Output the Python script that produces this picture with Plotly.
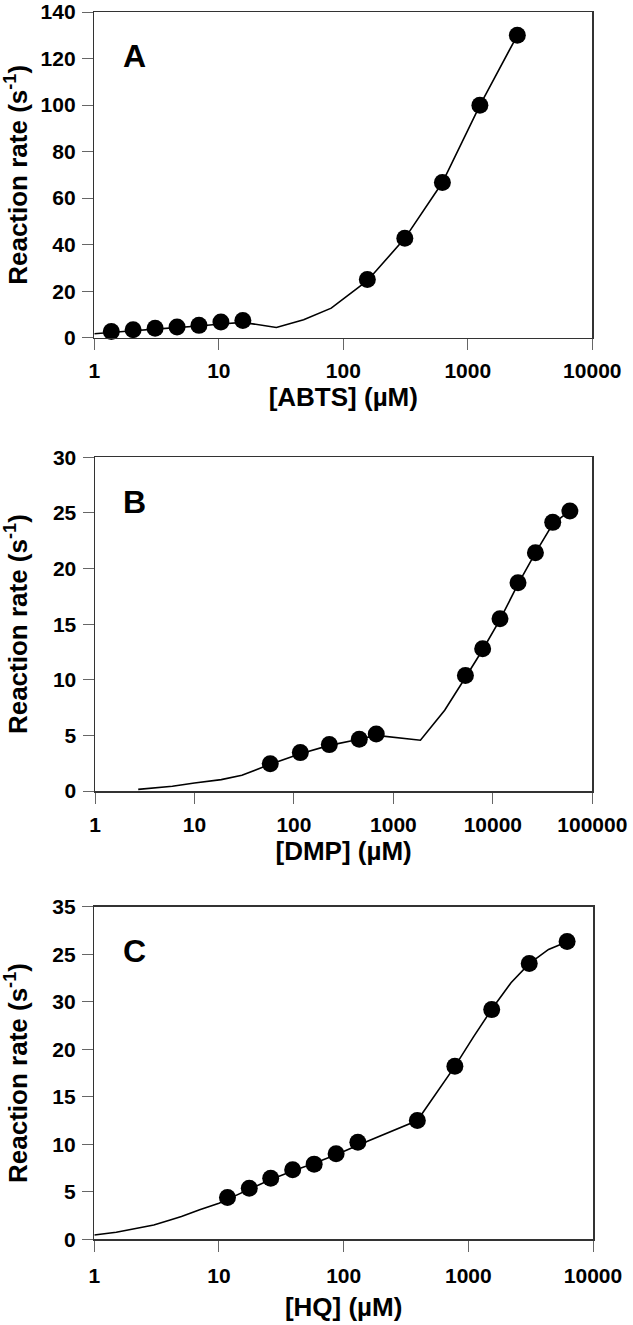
import plotly.graph_objects as go

# ---------------- data ----------------
# Panel A: ABTS
abts_x = [1.37, 2.05, 3.08, 4.62, 6.93, 10.4, 15.6, 156, 312, 625, 1250, 2500]
abts_y = [2.7, 3.4, 4.1, 4.6, 5.3, 6.7, 7.4, 25.0, 42.7, 66.7, 99.9, 130.0]
abts_fit_x = [1, 1.37, 2.05, 3.08, 4.62, 6.93, 10.4, 15.6, 29, 48, 80, 156, 312, 625, 1250, 2500]
abts_fit_y = [1.7, 2.4, 3.0, 3.7, 4.3, 5.0, 5.9, 6.6, 4.4, 7.7, 12.7, 24.5, 42.7, 66.7, 99.9, 130.0]

# Panel B: DMP
dmp_x = [57.8, 116, 227, 454, 673, 5300, 7900, 11800, 17900, 26800, 40000, 59500]
dmp_y = [2.46, 3.45, 4.17, 4.65, 5.13, 10.38, 12.78, 15.48, 18.72, 21.42, 24.15, 25.17]
dmp_fit_x = [2.72, 4, 6, 10, 18.6, 30, 57.8, 116, 227, 454, 673, 1870, 3280, 5300,
             7900, 11800, 17900, 26800, 40000, 59500]
dmp_fit_y = [0.15, 0.25, 0.42, 0.72, 1.02, 1.41, 2.4, 3.35, 4.1, 4.65, 5.0, 4.56, 7.26, 10.2,
             12.7, 15.4, 18.6, 21.4, 24.0, 25.2]

# Panel C: HQ
hq_x = [11.7, 17.5, 26, 39, 58, 87, 130, 390, 780, 1540, 3080, 6200]
hq_y = [4.39, 5.38, 6.43, 7.31, 7.91, 9.0, 10.22, 12.51, 18.2, 24.17, 29.02, 31.34]
hq_fit_x = [1, 1.5, 2, 2.5, 3, 4, 5, 7, 10, 11.7, 17.5, 26, 39, 58, 87, 130, 390, 780,
            1100, 1540, 2200, 3080, 4400, 6200]
hq_fit_y = [0.45, 0.75, 1.05, 1.3, 1.5, 2.0, 2.4, 3.1, 3.8, 4.2, 5.3, 6.3, 7.2, 8.0, 8.9,
            9.9, 12.5, 18.2, 21.3, 24.2, 27.0, 29.0, 30.5, 31.3]

# tick labels
x_ticks_4 = [1, 10, 100, 1000, 10000]
x_ticks_5 = [1, 10, 100, 1000, 10000, 100000]
a_yticks = [0, 20, 40, 60, 80, 100, 120, 140]
b_yticks = [0, 5, 10, 15, 20, 25, 30]
c_yticks = [0, 5, 10, 15, 20, 25, 30, 35]
c_yticktext = ["0", "5", "10", "15", "20", "30", "25", "35"]  # as printed in the original

panels = [
    dict(x=abts_x, y=abts_y, fx=abts_fit_x, fy=abts_fit_y, xt=x_ticks_4, xr=[0, 4],
         yt=a_yticks, ytt=[str(v) for v in a_yticks], yr=[0, 140],
         xtitle="[ABTS] (µM)", letter="A", xdom=[94.3, 592.3], ydom=[12, 337.7],
         ystand=26, xstand=6, xlso=3),
    dict(x=dmp_x, y=dmp_y, fx=dmp_fit_x, fy=dmp_fit_y, xt=x_ticks_5, xr=[0, 5],
         yt=b_yticks, ytt=[str(v) for v in b_yticks], yr=[0, 30],
         xtitle="[DMP] (µM)", letter="B", xdom=[95, 592.3], ydom=[457.3, 791],
         ystand=38, xstand=6, xlso=3),
    dict(x=hq_x, y=hq_y, fx=hq_fit_x, fy=hq_fit_y, xt=x_ticks_4, xr=[0, 4],
         yt=c_yticks, ytt=c_yticktext, yr=[0, 35],
         xtitle="[HQ] (µM)", letter="C", xdom=[94.3, 593], ydom=[906.7, 1239.3],
         ystand=38, xstand=12, xlso=6),
]

W, H = 633, 1325
FONT = "Liberation Sans, Arial, sans-serif"
tickfont = dict(family=FONT, size=21, color="black", weight="bold")
titlefont = dict(family=FONT, size=26, color="black", weight="bold")

fig = go.Figure()
layout = dict(width=W, height=H, autosize=False, margin=dict(l=0, r=0, t=0, b=0),
              paper_bgcolor="white", plot_bgcolor="white", showlegend=False)
annotations = []

for i, p in enumerate(panels, start=1):
    sx = "" if i == 1 else str(i)
    fig.add_trace(go.Scatter(x=p["fx"], y=p["fy"], mode="lines",
                             line=dict(color="black", width=1.6),
                             xaxis="x" + sx, yaxis="y" + sx, hoverinfo="skip"))
    fig.add_trace(go.Scatter(x=p["x"], y=p["y"], mode="markers",
                             marker=dict(color="black", size=17, line=dict(width=0)),
                             xaxis="x" + sx, yaxis="y" + sx, cliponaxis=False))
    x0, x1 = p["xdom"]
    y0, y1 = p["ydom"]
    xd = [x0 / W, x1 / W]
    yd = [(H - y1) / H, (H - y0) / H]
    common = dict(showline=True, mirror=True, linecolor="#333333", linewidth=1.5,
                  ticks="outside", ticklen=11, tickwidth=1, tickcolor="#666666",
                  showgrid=False, zeroline=False, tickfont=tickfont, automargin=False,
                  ticklabeloverflow="allow")
    layout["xaxis" + sx] = dict(common, type="log", range=p["xr"], domain=xd,
                                anchor="y" + sx, tickvals=p["xt"],
                                ticktext=[str(v) for v in p["xt"]],
                                ticklabelstandoff=p["xlso"],
                                title=dict(text=p["xtitle"], font=titlefont,
                                           standoff=p["xstand"]))
    layout["yaxis" + sx] = dict(common, range=p["yr"], domain=yd, anchor="x" + sx,
                                tickvals=p["yt"], ticktext=p["ytt"],
                                ticklabelstandoff=2,
                                title=dict(text="Reaction rate (s<sup>-1</sup>)",
                                           font=titlefont, standoff=p["ystand"]))
    annotations.append(dict(text=p["letter"], xref="x" + sx + " domain",
                            yref="y" + sx + " domain", x=0.08, y=0.866,
                            xanchor="center", yanchor="middle", showarrow=False,
                            font=dict(family=FONT, size=32, color="black", weight="bold")))

layout["annotations"] = annotations
fig.update_layout(**layout)
# remove the default 8px page margin so the 633x1325 figure fills the window exactly
fig.write_html("out.html",
               config={"displayModeBar": False, "staticPlot": True},
               post_script="document.body.style.margin='0px';"
                           "document.documentElement.style.overflow='hidden';")
